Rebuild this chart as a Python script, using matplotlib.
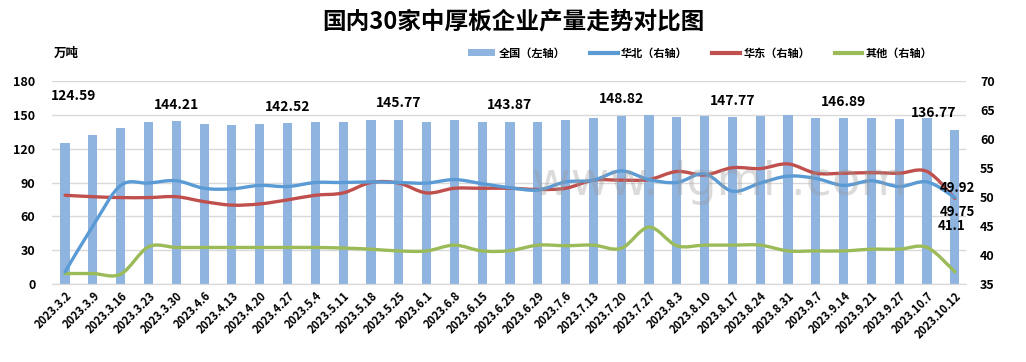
import matplotlib
matplotlib.use("Agg")
import matplotlib.pyplot as plt
from matplotlib.path import Path
from matplotlib.patches import PathPatch, Patch
from matplotlib.lines import Line2D
import numpy as np

plt.rcParams['font.family'] = ['Noto Sans CJK SC', 'DejaVu Sans']

dates = ["2023.3.2", "2023.3.9", "2023.3.16", "2023.3.23", "2023.3.30", "2023.4.6",
         "2023.4.13", "2023.4.20", "2023.4.27", "2023.5.4", "2023.5.11", "2023.5.18",
         "2023.5.25", "2023.6.1", "2023.6.8", "2023.6.15", "2023.6.25", "2023.6.29",
         "2023.7.6", "2023.7.13", "2023.7.20", "2023.7.27", "2023.8.3", "2023.8.10",
         "2023.8.17", "2023.8.24", "2023.8.31", "2023.9.7", "2023.9.14", "2023.9.21",
         "2023.9.27", "2023.10.7", "2023.10.12"]

national = [124.59, 132.1, 138.3, 143.7, 144.21, 141.9, 141.0, 141.9, 142.52, 143.7,
            143.7, 145.4, 145.77, 143.7, 145.4, 143.7, 143.87, 143.7, 145.4, 147.2,
            148.82, 149.9, 148.1, 149.0, 147.77, 149.0, 149.9, 147.2, 146.89, 147.2,
            146.3, 147.2, 136.77]

north = [37.1, 45.0, 52.0, 52.4, 52.8, 51.5, 51.4, 52.0, 51.8, 52.5, 52.5, 52.6,
         52.5, 52.4, 53.0, 52.3, 51.6, 51.2, 52.6, 52.9, 54.5, 53.0, 52.5, 54.0,
         51.0, 52.4, 53.6, 53.2, 52.0, 52.8, 51.8, 52.6, 49.92]

east = [50.3, 50.05, 49.9, 49.9, 50.05, 49.2, 48.6, 48.8, 49.5, 50.3, 50.7, 52.5,
        52.4, 50.7, 51.5, 51.5, 51.5, 51.3, 51.5, 52.9, 52.9, 53.0, 54.4, 53.8,
        55.05, 54.9, 55.7, 54.1, 54.1, 54.2, 54.1, 54.4, 49.75]

other = [36.8, 36.8, 36.7, 41.4, 41.3, 41.3, 41.3, 41.3, 41.3, 41.3, 41.2, 41.0,
         40.7, 40.7, 41.7, 40.7, 40.75, 41.7, 41.6, 41.7, 41.15, 44.8, 41.6, 41.7,
         41.7, 41.7, 40.7, 40.7, 40.7, 41.0, 41.0, 41.3, 37.1]

bar_label_idx = [0, 4, 8, 12, 16, 20, 24, 28, 32]
end_labels = ["49.92", "49.75", "41.1"]

C_BAR = '#8FB4E0'
C_N = '#5B9BD5'
C_E = '#C0504D'
C_O = '#9BBB59'

fig = plt.figure(figsize=(10.26, 3.62), dpi=100)
ax = fig.add_axes([52/1026, 1-284/362, (966-52)/1026, (284-81)/362])
ax2 = ax.twinx()

x = np.arange(len(dates))
ax.bar(x, national, width=0.33, color=C_BAR, zorder=2)
ax.set_ylim(0, 180)
ax.set_yticks(np.arange(0, 181, 30))
ax2.set_ylim(35, 70)
ax2.set_yticks(np.arange(35, 71, 5))
ax.set_xlim(-0.47, 32.4)
ax.set_xticks(x)
ax.set_xticklabels(dates, rotation=45, ha='right', rotation_mode='anchor',
                   fontsize=8, fontweight='bold')
ax.tick_params(axis='x', length=0, pad=4)
ax.tick_params(axis='y', length=0, pad=12, labelsize=9)
ax2.tick_params(axis='y', length=0, pad=10, labelsize=9)
for lab in ax.get_yticklabels() + ax2.get_yticklabels():
    lab.set_fontweight('bold')
ax.grid(axis='y', color='#D9D9D9', linewidth=1, zorder=0)
ax.set_axisbelow(True)
for a in (ax, ax2):
    for s in ('top', 'left', 'right'):
        a.spines[s].set_visible(False)
    a.spines['bottom'].set_color('#D9D9D9')


def smooth_path(xs, ys):
    xs = np.asarray(xs, float)
    ys = np.asarray(ys, float)
    n = len(xs)
    verts = [(xs[0], ys[0])]
    codes = [Path.MOVETO]
    for i in range(n - 1):
        p0 = (xs[max(i-1, 0)], ys[max(i-1, 0)])
        p1 = (xs[i], ys[i])
        p2 = (xs[i+1], ys[i+1])
        p3 = (xs[min(i+2, n-1)], ys[min(i+2, n-1)])
        c1 = (p1[0] + (p2[0]-p0[0])/6, p1[1] + (p2[1]-p0[1])/6)
        c2 = (p2[0] - (p3[0]-p1[0])/6, p2[1] - (p3[1]-p1[1])/6)
        verts += [c1, c2, p2]
        codes += [Path.CURVE4]*3
    return Path(verts, codes)


for ser, col in ((other, C_O), (east, C_E), (north, C_N)):
    ax2.add_patch(PathPatch(smooth_path(x, ser), facecolor='none', edgecolor=col,
                            lw=2.4, capstyle='round', joinstyle='round', zorder=3))

# watermark
ax2.text(0.73, 0.5, "www. lgmi .com", transform=ax.transAxes, ha='center',
         va='center', fontsize=34, color='#9a9a9a', alpha=0.35, zorder=5,
         family='DejaVu Sans')

# bar labels
for i in bar_label_idx:
    dx, dy = 0, 12
    if i == 0:
        dx, dy = 6, 34
    if i == len(x) - 1:
        dx, dy = -15, 12
    ax.annotate(f"{national[i]:.2f}", (x[i], national[i]), xytext=(dx, dy),
                textcoords='offset points', ha='center', va='center',
                fontsize=10, fontweight='bold', zorder=6)

# end labels for lines
last = len(x) - 1
ax2.annotate(end_labels[0], (x[last], north[last]), xytext=(2, 7),
             textcoords='offset points', ha='center', va='center',
             fontsize=9.5, fontweight='bold', zorder=6)
ax2.annotate(end_labels[1], (x[last], east[last]), xytext=(2, -10),
             textcoords='offset points', ha='center', va='center',
             fontsize=9.5, fontweight='bold', zorder=6)
ax2.annotate(end_labels[2], (x[last], other[last]), xytext=(-2, 33),
             textcoords='offset points', ha='center', va='center',
             fontsize=9.5, fontweight='bold', zorder=6)

fig.text(0.5, 1-22/362, "国内30家中厚板企业产量走势对比图", ha='center', va='center',
         fontsize=17, fontweight='bold')
fig.text(66/1026, 1-53/362, "万吨", ha='center', va='center', fontsize=9,
         fontweight='bold')

handles = [Patch(facecolor=C_BAR, edgecolor='none'),
           Line2D([], [], color=C_N, lw=3),
           Line2D([], [], color=C_E, lw=3),
           Line2D([], [], color=C_O, lw=3)]
labels = ["全国（左轴）", "华北（右轴）", "华东（右轴）", "其他（右轴）"]
leg = fig.legend(handles, labels, loc='center', bbox_to_anchor=(700/1026, 1-53/362),
                 ncol=4, frameon=False, handlelength=2.5,
                 handleheight=0.5, handletextpad=0.3, columnspacing=2.2,
                 prop={'weight': 'bold', 'size': 8})

fig.savefig("out.png", dpi=100)
